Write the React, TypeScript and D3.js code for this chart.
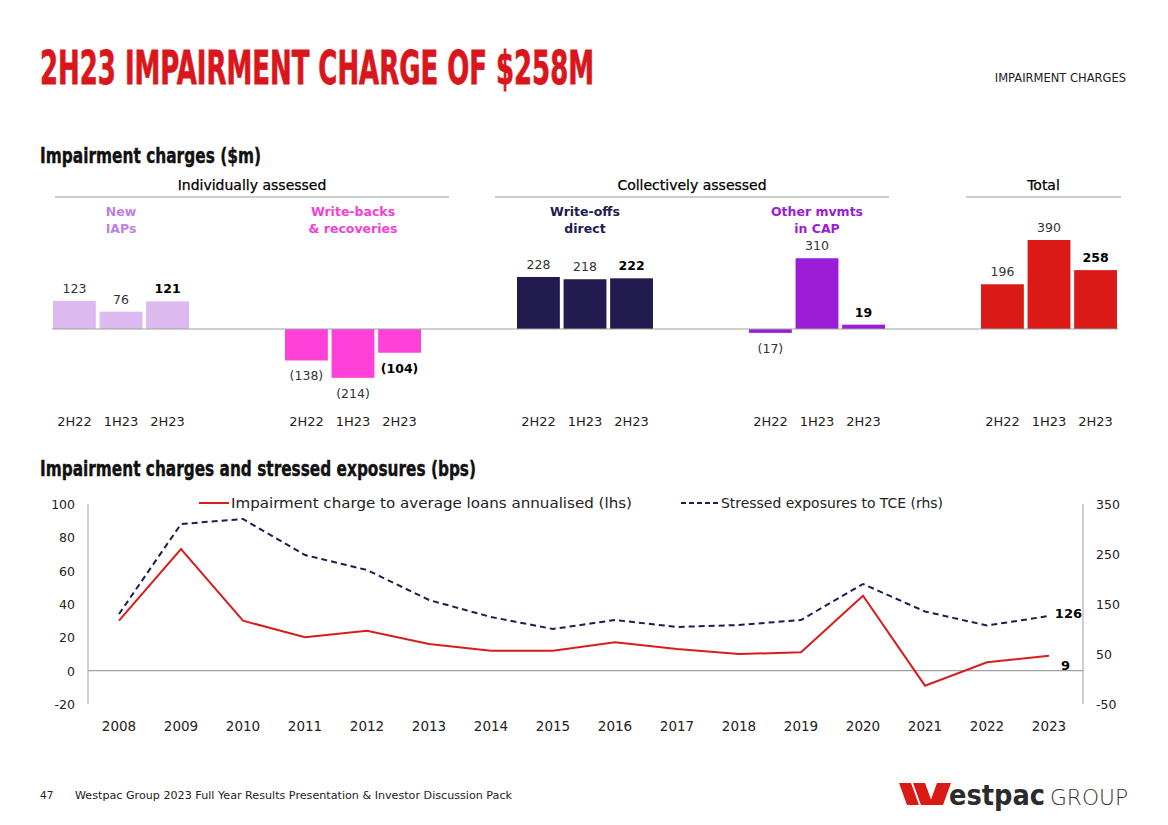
import React from "react";
import * as d3 from "d3";

// ---------- Data ----------
const halves = ["2H22", "1H23", "2H23"];
const groupKeys = ["newIAPs", "writeBacks", "writeOffs", "otherCAP", "total"];
const groupTitles = [["New", "IAPs"], ["Write-backs", "& recoveries"], ["Write-offs", "direct"], ["Other mvmts", "in CAP"], []];
const groupColors = ["#dcbaf0", "#ff40d9", "#211b4f", "#9b1dd8", "#da1a17"];
const groupTitleColors = ["#c07fe3", "#f23fd4", "#211b4f", "#9b1dd8", "#da1a17"];
const newIAPs = [123, 76, 121];
const writeBacks = [-138, -214, -104];
const writeOffs = [228, 218, 222];
const otherCAP = [-17, 310, 19];
const totalCharges = [196, 390, 258];
const groupValues = [newIAPs, writeBacks, writeOffs, otherCAP, totalCharges];

const years = [2008, 2009, 2010, 2011, 2012, 2013, 2014, 2015, 2016, 2017, 2018, 2019, 2020, 2021, 2022, 2023];
const impairmentBps = [30, 73, 30, 20, 24, 16, 12, 12, 17, 13, 10, 11, 45, -9, 5, 9];
const stressedBps = [130, 310, 320, 248, 218, 158, 124, 100, 118, 104, 108, 118, 190, 135, 107, 126];
const leftTicks = [-20, 0, 20, 40, 60, 80, 100];
const rightTicks = [-50, 50, 150, 250, 350];

const FONT = "'DejaVu Sans', 'Open Sans', sans-serif";
const COND = "'DejaVu Sans Condensed', 'Liberation Sans Narrow', sans-serif";

const fmt = (v: number) => (v < 0 ? `(${Math.abs(v)})` : `${v}`);

export default function App() {
  // bar chart scales
  const xGroup = d3.scaleBand<string>().domain(groupKeys).range([53, 1117]).paddingInner(96 / 232).paddingOuter(0);
  const xInner = d3.scaleBand<string>().domain(halves).range([0, xGroup.bandwidth()]).paddingInner(0.08);
  const yBar = d3.scaleLinear().domain([0, 390]).range([329, 240]);

  // line chart scales
  const xYear = d3.scalePoint<number>().domain(years).range([119, 1049]);
  const yLeft = d3.scaleLinear().domain([-20, 100]).range([704, 504]);
  const yRight = d3.scaleLinear().domain([-50, 350]).range([704, 504]);
  const lineL = d3.line<number>().x((_, i) => xYear(years[i])!).y((d) => yLeft(d));
  const lineR = d3.line<number>().x((_, i) => xYear(years[i])!).y((d) => yRight(d));

  const sections = [
    { label: "Individually assessed", x1: 55, x2: 449 },
    { label: "Collectively assessed", x1: 495, x2: 889 },
    { label: "Total", x1: 966, x2: 1121 },
  ];

  return (
    <svg width={1168} height={825} style={{ position: "absolute", left: 0, top: 0, background: "#fff" }} fontFamily={FONT}>
      {/* Title */}
      <text x={40} y={84} fontFamily={COND} fontWeight={700} fontSize={46} fill="#d9161c" textLength={554} lengthAdjust="spacingAndGlyphs" stroke="#d9161c" strokeWidth={0.8}>
        2H23 IMPAIRMENT CHARGE OF $258M
      </text>
      <text x={1126} y={82} textAnchor="end" fontSize={11.5} fill="#222">IMPAIRMENT CHARGES</text>

      {/* Subtitle 1 */}
      <text x={40} y={163} fontFamily={COND} fontWeight={700} fontSize={22} fill="#111" textLength={221} lengthAdjust="spacingAndGlyphs" stroke="#111" strokeWidth={0.4}>
        Impairment charges ($m)
      </text>

      {sections.map((s) => (
        <g key={s.label}>
          <text x={(s.x1 + s.x2) / 2} y={190} textAnchor="middle" fontSize={14} fill="#000" stroke="#000" strokeWidth={0.25}>{s.label}</text>
          <line x1={s.x1} x2={s.x2} y1={197} y2={197} stroke="#9a9a9a" strokeWidth={1} />
        </g>
      ))}

      {groupKeys.map((g, gi) => {
        const gx = xGroup(g)!;
        const cx = gx + xGroup.bandwidth() / 2;
        return (
          <g key={g}>
            {groupTitles[gi].map((t, li) => (
              <text key={t} x={cx} y={216 + li * 17} textAnchor="middle" fontSize={12.5} fontWeight={700} fill={groupTitleColors[gi]}>{t}</text>
            ))}
            {groupValues[gi].map((v, i) => {
              const bx = gx + xInner(halves[i])!;
              const bw = xInner.bandwidth();
              const y0 = yBar(Math.max(0, v));
              const y1 = yBar(Math.min(0, v));
              const bold = i === 2;
              const ly = v >= 0 ? y0 - 8 : y1 + 20;
              return (
                <g key={i}>
                  <rect x={bx} y={y0} width={bw} height={y1 - y0} fill={groupColors[gi]} />
                  <text x={bx + bw / 2} y={ly} textAnchor="middle" fontSize={12.5} fontWeight={bold ? 700 : 400} fill={bold ? "#000" : "#333"}>{fmt(v)}</text>
                  <text x={bx + bw / 2} y={426} textAnchor="middle" fontSize={13} fill="#222">{halves[i]}</text>
                </g>
              );
            })}
          </g>
        );
      })}
      <line x1={52} x2={1118} y1={yBar(0)} y2={yBar(0)} stroke="#a0a0a0" strokeWidth={1.2} />

      {/* Subtitle 2 */}
      <text x={40} y={476} fontFamily={COND} fontWeight={700} fontSize={22} fill="#111" textLength={436} lengthAdjust="spacingAndGlyphs" stroke="#111" strokeWidth={0.4}>
        Impairment charges and stressed exposures (bps)
      </text>

      {/* Axes */}
      <line x1={88} x2={88} y1={504} y2={704} stroke="#b0b0b0" strokeWidth={1.2} />
      <line x1={1083} x2={1083} y1={504} y2={704} stroke="#b0b0b0" strokeWidth={1.2} />
      <line x1={88} x2={1083} y1={yLeft(0)} y2={yLeft(0)} stroke="#a0a0a0" strokeWidth={1.2} />
      {leftTicks.map((t) => (
        <text key={t} x={75} y={yLeft(t) + 5} textAnchor="end" fontSize={12.5} fill="#222">{t}</text>
      ))}
      {rightTicks.map((t) => (
        <text key={t} x={1096} y={yRight(t) + 5} textAnchor="start" fontSize={12.5} fill="#222">{t}</text>
      ))}
      {years.map((yr) => (
        <text key={yr} x={xYear(yr)} y={731} textAnchor="middle" fontSize={13.5} fill="#222">{yr}</text>
      ))}

      {/* Lines */}
      <path d={lineR(stressedBps)!} fill="none" stroke="#211b4f" strokeWidth={2} strokeDasharray="6,4" />
      <path d={lineL(impairmentBps)!} fill="none" stroke="#d51f1f" strokeWidth={2} />
      <text x={1082} y={yRight(stressedBps[15]) + 2} textAnchor="end" fontSize={13} fontWeight={700} fill="#000">{stressedBps[15]}</text>
      <text x={1070} y={yLeft(impairmentBps[15]) + 14} textAnchor="end" fontSize={13} fontWeight={700} fill="#000">{impairmentBps[15]}</text>

      {/* Legend */}
      <line x1={199} x2={229} y1={503} y2={503} stroke="#d51f1f" strokeWidth={2} />
      <text x={231} y={508} fontSize={13.5} fill="#222" textLength={401} lengthAdjust="spacingAndGlyphs">Impairment charge to average loans annualised (lhs)</text>
      <line x1={681} x2={718} y1={503} y2={503} stroke="#211b4f" strokeWidth={2} strokeDasharray="5,3" />
      <text x={721} y={508} fontSize={13.5} fill="#222" textLength={222} lengthAdjust="spacingAndGlyphs">Stressed exposures to TCE (rhs)</text>

      {/* Footer */}
      <text x={40} y={799} fontSize={10.5} fill="#222">47</text>
      <text x={75} y={799} fontSize={10.5} fill="#222" textLength={437} lengthAdjust="spacingAndGlyphs">Westpac Group 2023 Full Year Results Presentation &amp; Investor Discussion Pack</text>
      <g fill="#da1a17">
        <polygon points="899,783 911,783 919,805 907,805" />
        <polygon points="913,783 925,783 933,805 921,805" />
        <polygon points="937,783 951,783 943,805 929,805" />
      </g>
      <text x={949} y={805} fontSize={28} fontWeight={700} fill="#2b2b2b" textLength={96} lengthAdjust="spacingAndGlyphs">estpac</text>
      <text x={1050} y={805} fontSize={22} fontWeight={300} fill="#333" textLength={78} lengthAdjust="spacingAndGlyphs">GROUP</text>
    </svg>
  );
}
